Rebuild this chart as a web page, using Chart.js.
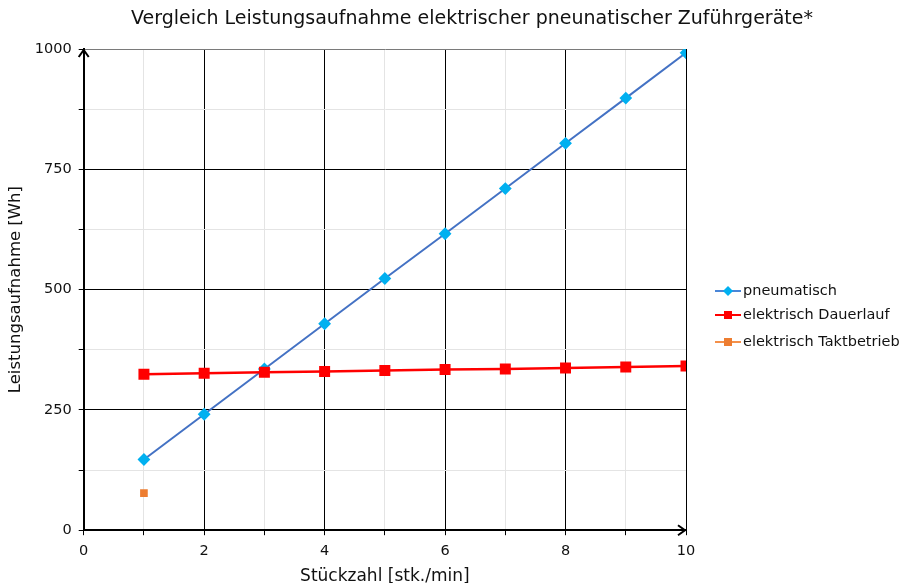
<!DOCTYPE html>
<html>
<head>
<meta charset="utf-8">
<script src="https://cdn.jsdelivr.net/npm/chart.js@4"></script>
<style>
  html, body { margin: 0; padding: 0; background: #fff; }
  #wrap { width: 912px; height: 583px; }
</style>
</head>
<body>
<div id="wrap"><canvas id="chart"></canvas></div>
<script>
// Stückzahl (stk./min) and Leistungsaufnahme (Wh)
const stueckzahl = [1, 2, 3, 4, 5, 6, 7, 8, 9, 10];
const pneumatisch = [147, 241, 335, 429, 523, 616, 710, 804, 898, 992];
const elektrischDauerlauf = [324, 326, 328, 330, 332, 334, 335, 337, 339, 341];
const taktX = [1];
const elektrischTakt = [77];
const xTickLabels = [0, 2, 4, 6, 8, 10];
const yTickLabels = [0, 250, 500, 750, 1000];
const titleText = 'Vergleich Leistungsaufnahme elektrischer pneunatischer Zuführgeräte*';

const FONT = '"DejaVu Sans", sans-serif';
const minorGrid = '#e4e4e4';

// title drawn a little right of centre, like the original
const titlePlugin = {
  id: 'titlePlugin',
  afterDraw(chart) {
    const { ctx } = chart;
    ctx.save();
    ctx.font = '19px ' + FONT;
    ctx.fillStyle = '#111';
    ctx.textAlign = 'center'; ctx.textBaseline = 'middle';
    ctx.fillText(titleText, 472, 19);
    ctx.restore();
  }
};

// legend: short line with marker, then the label
const sideLegend = {
  id: 'sideLegend',
  afterDraw(chart) {
    const { ctx, chartArea: a } = chart;
    const x0 = a.right + 29;
    const rows = [291, 315, 342];
    ctx.save();
    ctx.font = '14.5px ' + FONT;
    ctx.textBaseline = 'middle';
    chart.data.datasets.forEach((d, i) => {
      const y = rows[i];
      ctx.strokeStyle = d.legendLine; ctx.lineWidth = 2;
      ctx.beginPath(); ctx.moveTo(x0, y); ctx.lineTo(x0 + 26, y); ctx.stroke();
      ctx.fillStyle = d.pointBackgroundColor;
      const cx = x0 + 13, s = 4;
      if (d.pointStyle === 'rectRot') {
        ctx.beginPath(); ctx.moveTo(cx, y - s - 1); ctx.lineTo(cx + s + 1, y);
        ctx.lineTo(cx, y + s + 1); ctx.lineTo(cx - s - 1, y); ctx.closePath(); ctx.fill();
      } else {
        ctx.fillRect(cx - s, y - s, s * 2, s * 2);
      }
      ctx.fillStyle = '#111';
      ctx.fillText(d.label, x0 + 28, y);
    });
    ctx.restore();
  }
};

// arrowheads at the ends of both axes
const axisArrow = {
  id: 'axisArrow',
  afterDraw(chart) {
    const { ctx, chartArea: a } = chart;
    ctx.save();
    ctx.strokeStyle = '#000'; ctx.lineWidth = 2;
    ctx.beginPath();
    ctx.moveTo(a.left - 5, a.top + 8);
    ctx.lineTo(a.left, a.top + 1);
    ctx.lineTo(a.left + 5, a.top + 8);
    ctx.moveTo(a.right - 8, a.bottom - 5);
    ctx.lineTo(a.right - 1, a.bottom);
    ctx.lineTo(a.right - 8, a.bottom + 5);
    ctx.stroke();
    ctx.restore();
  }
};

new Chart(document.getElementById('chart'), {
  type: 'line',
  data: {
    datasets: [
      {
        label: 'pneumatisch',
        data: stueckzahl.map((x, i) => ({ x, y: pneumatisch[i] })),
        borderColor: '#4472C4', borderWidth: 2, legendLine: '#4A86D8',
        pointStyle: 'rectRot', pointRadius: 5, pointHoverRadius: 5,
        pointBackgroundColor: '#00B0F0', pointBorderColor: '#00B0F0',
        order: 1
      },
      {
        label: 'elektrisch Dauerlauf',
        data: stueckzahl.map((x, i) => ({ x, y: elektrischDauerlauf[i] })),
        borderColor: '#FF0000', borderWidth: 2.5, legendLine: '#FF0000',
        pointStyle: 'rect', pointRadius: 6, pointHoverRadius: 6,
        pointBackgroundColor: '#FF0000', pointBorderColor: '#FF0000',
        order: 0
      },
      {
        label: 'elektrisch Taktbetrieb',
        data: taktX.map((x, i) => ({ x, y: elektrischTakt[i] })),
        borderColor: '#ED7D31', borderWidth: 2, legendLine: '#F4904A',
        pointStyle: 'rect', pointRadius: 4, pointHoverRadius: 4,
        pointBackgroundColor: '#ED7D31', pointBorderColor: '#ED7D31',
        showLine: false
      }
    ]
  },
  options: {
    responsive: true, maintainAspectRatio: false, animation: false,
    layout: { padding: { top: 49, right: 226, left: 6, bottom: -4 } },
    plugins: {
      legend: { display: false },
      tooltip: { enabled: false }
    },
    scales: {
      x: {
        type: 'linear', min: 0, max: 10,
        ticks: {
          stepSize: 1, color: '#111', font: { family: FONT, size: 14.5 }, padding: 7,
          callback: v => xTickLabels.includes(v) ? String(v) : ''
        },
        grid: {
          color: c => c.tick.value % 2 === 0 ? '#000' : minorGrid,
          tickColor: '#000', tickLength: 5
        },
        border: { color: '#000', width: 2 },
        title: {
          display: true, text: 'Stückzahl [stk./min]', color: '#111',
          font: { family: FONT, size: 17 }, padding: { top: 0, bottom: 0 }
        }
      },
      y: {
        min: 0, max: 1000,
        ticks: {
          stepSize: 125, color: '#111', font: { family: FONT, size: 14.5 }, padding: 7,
          callback: v => yTickLabels.includes(v) ? String(v) : ''
        },
        grid: {
          color: c => c.tick.value === 1000 ? '#7a7a7a' : (c.tick.value % 250 === 0 ? '#000' : minorGrid),
          tickColor: '#000', tickLength: 5
        },
        border: { color: '#000', width: 2 },
        title: {
          display: true, text: 'Leistungsaufnahme [Wh]', color: '#111',
          font: { family: FONT, size: 16.5 }, padding: { top: 0, bottom: 2 }
        }
      }
    }
  },
  plugins: [axisArrow, titlePlugin, sideLegend]
});
</script>
</body>
</html>
